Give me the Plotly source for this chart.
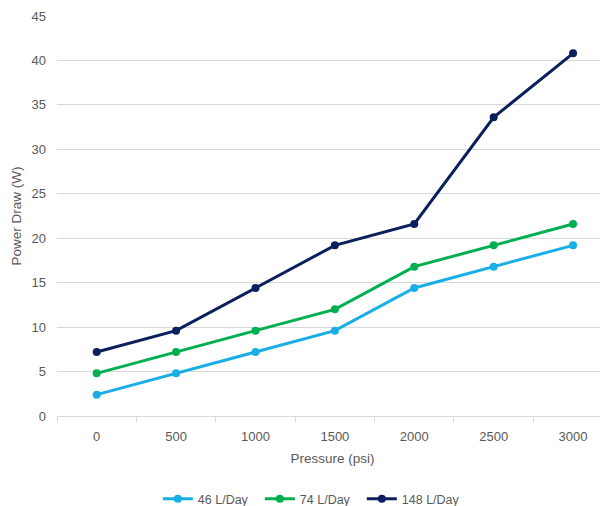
import plotly.graph_objects as go

pressure = [0, 500, 1000, 1500, 2000, 2500, 3000]
s46 = [2.4, 4.8, 7.2, 9.6, 14.4, 16.8, 19.2]
s74 = [4.8, 7.2, 9.6, 12.0, 16.8, 19.2, 21.6]
s148 = [7.2, 9.6, 14.4, 19.2, 21.6, 33.6, 40.8]
names = ["46 L/Day", "74 L/Day", "148 L/Day"]
colors = ["#19AEE6", "#00B050", "#0A1F5C"]

fig = go.Figure()
for name, vals, c in zip(names, [s46, s74, s148], colors):
    fig.add_trace(go.Scatter(x=pressure, y=vals, name=name, mode="lines+markers",
                             line=dict(color=c, width=3), marker=dict(color=c, size=8)))

font = dict(family="Liberation Sans, Arial, sans-serif", color="#595959", size=13)
fig.update_layout(
    width=600, height=498,
    margin=dict(l=49, r=0, t=8, b=90, autoexpand=False),
    paper_bgcolor="white", plot_bgcolor="white",
    font=font,
    showlegend=True,
    legend=dict(orientation="h", x=0.183, xanchor="left", y=-0.245, yanchor="bottom",
                font=dict(size=12.5, color="#595959"), entrywidth=57),
    xaxis=dict(range=[-250, 3220], tickvals=pressure, ticktext=[str(p) for p in pressure],
               showgrid=False, zeroline=False, showline=True, linecolor="#d9d9d9", linewidth=1,
               ticks="", ticklabelstandoff=8,
               minor=dict(tick0=-250, dtick=500, ticks="outside", ticklen=5, tickcolor="#d9d9d9", showgrid=False),
               title=dict(text="Pressure (psi)", font=dict(size=13.5, color="#595959"), standoff=10)),
    yaxis=dict(range=[0, 45], dtick=5, showgrid=True, gridcolor="#d9d9d9", gridwidth=1,
               zeroline=False, showline=False, ticks="", ticklabelstandoff=10,
               title=dict(text="Power Draw (W)", font=dict(size=13.5, color="#595959"), standoff=6)),
)
fig.write_html("out.html")
